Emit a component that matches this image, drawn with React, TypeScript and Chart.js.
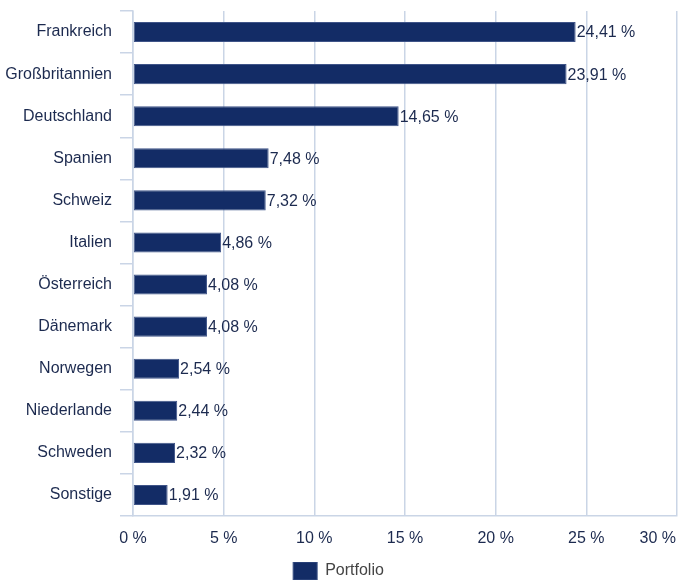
import React, { useEffect, useRef } from "react";
import { Chart, registerables } from "chart.js";

Chart.register(...registerables);

const categories = [
  "Frankreich",
  "Großbritannien",
  "Deutschland",
  "Spanien",
  "Schweiz",
  "Italien",
  "Österreich",
  "Dänemark",
  "Norwegen",
  "Niederlande",
  "Schweden",
  "Sonstige",
];
const portfolioValues = [24.41, 23.91, 14.65, 7.48, 7.32, 4.86, 4.08, 4.08, 2.54, 2.44, 2.32, 1.91];
const seriesLabel = "Portfolio";
const xMin = 0;
const xMax = 30;
const xStep = 5;

const FONT = "'Liberation Sans', Arial, Helvetica, sans-serif";
const BAR_COLOR = "#132c66";
const BAR_BORDER = "#3f5488";
const GRID_COLOR = "#cad5e6";
const TEXT_COLOR = "#1c2a4f";

const fmt = (v: number) => v.toFixed(2).replace(".", ",") + " %";

const valueLabels = {
  id: "valueLabels",
  afterDatasetsDraw(chart: any) {
    const ctx = chart.ctx;
    const meta = chart.getDatasetMeta(0);
    const data = chart.data.datasets[0].data as number[];
    ctx.save();
    ctx.font = `16px ${FONT}`;
    ctx.fillStyle = TEXT_COLOR;
    ctx.textAlign = "left";
    ctx.textBaseline = "middle";
    meta.data.forEach((bar: any, i: number) => {
      ctx.fillText(fmt(data[i]), bar.x + 1, bar.y + 1);
    });
    ctx.restore();
  },
};

const xTickLabels = {
  id: "xTickLabels",
  afterDraw(chart: any) {
    const ctx = chart.ctx;
    const scale = chart.scales.x;
    ctx.save();
    ctx.font = `16px ${FONT}`;
    ctx.fillStyle = TEXT_COLOR;
    ctx.textBaseline = "middle";
    const y = scale.top + 23;
    scale.ticks.forEach((t: any) => {
      const text = `${t.value} %`;
      const x = scale.getPixelForValue(t.value);
      const w = ctx.measureText(text).width;
      if (x + w / 2 > chart.width - 2) {
        ctx.textAlign = "right";
        ctx.fillText(text, chart.width - 2, y);
      } else {
        ctx.textAlign = "center";
        ctx.fillText(text, x, y);
      }
    });
    ctx.restore();
  },
};

export default function App() {
  const ref = useRef<HTMLCanvasElement | null>(null);

  useEffect(() => {
    if (!ref.current) return;
    Chart.defaults.font.family = FONT;
    const chart = new Chart(ref.current, {
      type: "bar",
      data: {
        labels: categories,
        datasets: [
          {
            label: seriesLabel,
            data: portfolioValues,
            backgroundColor: BAR_COLOR,
            borderColor: BAR_BORDER,
            borderWidth: 1,
            borderSkipped: false,
            barPercentage: 0.476,
            categoryPercentage: 1,
          },
        ],
      },
      options: {
        indexAxis: "y",
        responsive: false,
        animation: false,
        devicePixelRatio: 1,
        layout: { padding: { top: 11, right: 1, left: 0, bottom: -10 } },
        scales: {
          x: {
            min: xMin,
            max: xMax,
            ticks: { stepSize: xStep, display: false },
            grid: { color: GRID_COLOR, drawTicks: false, lineWidth: 1.5 },
            border: { display: true, color: GRID_COLOR, width: 1.5 },
            afterFit: (s: any) => {
              s.height = 46;
              s.paddingLeft = 0;
              s.paddingRight = 0;
            },
          },
          y: {
            ticks: {
              color: TEXT_COLOR,
              font: { size: 16, family: FONT },
              padding: 8,
            },
            grid: {
              offset: true,
              drawOnChartArea: false,
              tickLength: 13,
              color: GRID_COLOR,
              lineWidth: 1.5,
            },
            border: { display: true, color: GRID_COLOR, width: 1.5 },
            afterFit: (s: any) => {
              s.width = 133;
              s.paddingTop = 0;
              s.paddingBottom = 0;
            },
          },
        },
        plugins: {
          legend: {
            position: "bottom",
            labels: {
              boxWidth: 24,
              boxHeight: 18,
              padding: 0,
              color: "#444444",
              font: { size: 16, family: FONT },
            },
          },
          tooltip: { enabled: false },
        },
      },
      plugins: [valueLabels, xTickLabels],
    });
    return () => chart.destroy();
  }, []);

  return (
    <div style={{ position: "absolute", left: 0, top: 0, width: 678, height: 580, background: "#fff" }}>
      <canvas ref={ref} width={678} height={580} style={{ display: "block" }} />
    </div>
  );
}
